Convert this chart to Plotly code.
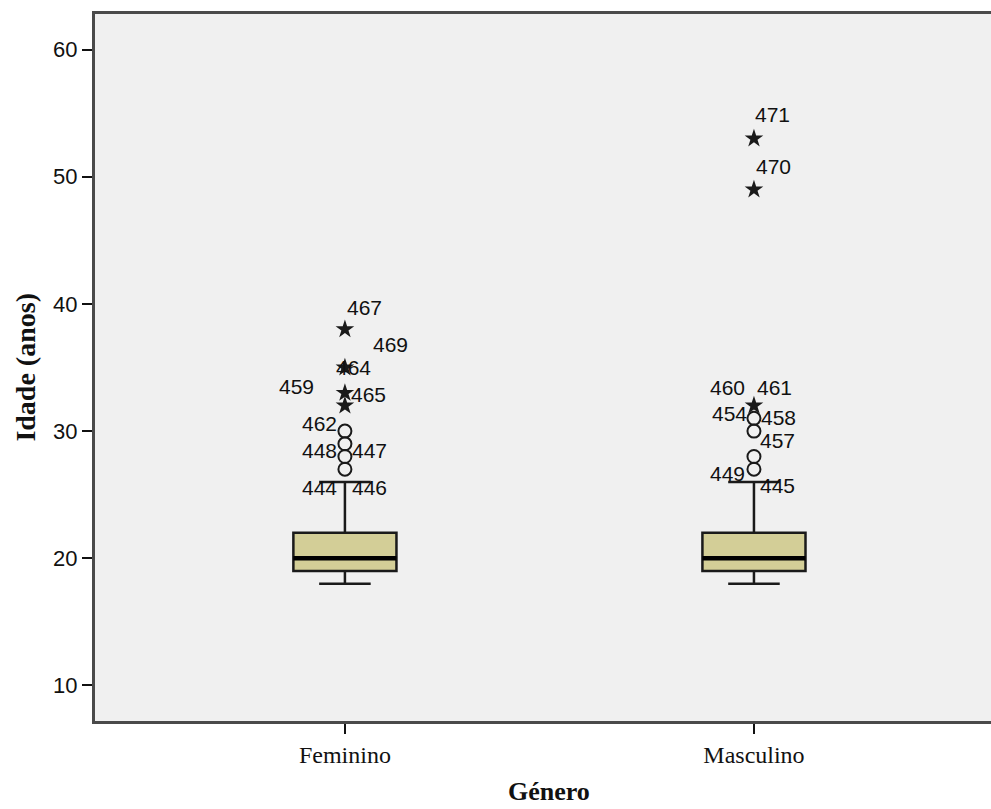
import plotly.graph_objects as go

# Boxplot summary of age (Idade) by gender (Género)
categories = ["Feminino", "Masculino"]
q1 = [19, 19]
median = [20, 20]
q3 = [22, 22]
lower_whisker = [18, 18]
upper_whisker = [26, 26]

# Outliers (circles) and extreme values (stars) per gender
fem_outliers = [27, 28, 29, 30]
fem_extremes = [32, 33, 35, 38]
masc_outliers = [27, 28, 30, 31]
masc_extremes = [32, 49, 53]

# Case labels: (category index, value of the case it belongs to, case number)
case_labels = [
    (0, 38, "467"), (0, 35, "469"), (0, 35, "464"), (0, 33, "459"),
    (0, 33, "465"), (0, 30, "462"), (0, 28, "448"), (0, 28, "447"),
    (0, 27, "444"), (0, 27, "446"),
    (1, 53, "471"), (1, 49, "470"), (1, 32, "460"), (1, 32, "461"),
    (1, 31, "454"), (1, 31, "458"), (1, 30, "457"), (1, 27, "449"),
    (1, 27, "445"),
]
# pixel offsets of each case label relative to its point
label_shifts = [
    (20, 22), (46, 23), (9, 0), (-48, 6), (24, -2), (-25, 8), (-25, 6),
    (25, 6), (-25, -18), (25, -18),
    (19, 24), (20, 23), (-26, 18), (21, 18), (-24, 5), (25, 1), (24, -9),
    (-26, -4), (24, -16),
]

box_width = 0.252
pos = list(range(len(categories)))

fig = go.Figure()

fig.add_trace(go.Box(
    x=pos, q1=q1, median=median, q3=q3,
    lowerfence=lower_whisker, upperfence=upper_whisker,
    width=box_width, whiskerwidth=0.5,
    fillcolor="#D3CE97",
    line=dict(color="#1a1a1a", width=2.5),
    boxpoints=False, hoverinfo="skip", showlegend=False,
))

# thick median bars
mx, my = [], []
for p, m in zip(pos, median):
    mx += [p - box_width / 2, p + box_width / 2, None]
    my += [m, m, None]
fig.add_trace(go.Scatter(
    x=mx, y=my, mode="lines",
    line=dict(color="#000000", width=4.5),
    showlegend=False, hoverinfo="skip",
))

circle_style = dict(symbol="circle-open", size=13, color="#1a1a1a",
                    line=dict(width=2, color="#1a1a1a"))
star_style = dict(symbol="star", size=14, color="#1a1a1a",
                  line=dict(width=0))

fig.add_trace(go.Scatter(x=[0] * len(fem_outliers), y=fem_outliers,
                         mode="markers", marker=circle_style, showlegend=False))
fig.add_trace(go.Scatter(x=[1] * len(masc_outliers), y=masc_outliers,
                         mode="markers", marker=circle_style, showlegend=False))
fig.add_trace(go.Scatter(x=[0] * len(fem_extremes), y=fem_extremes,
                         mode="markers", marker=star_style, showlegend=False))
fig.add_trace(go.Scatter(x=[1] * len(masc_extremes), y=masc_extremes,
                         mode="markers", marker=star_style, showlegend=False))

label_font = dict(family="Liberation Sans", size=21, color="#111111")
for (c, v, txt), (dx, dy) in zip(case_labels, label_shifts):
    fig.add_annotation(x=c, y=v, text=txt, showarrow=False,
                       xshift=dx, yshift=dy, font=label_font,
                       xanchor="center", yanchor="middle")

# axis titles
fig.add_annotation(xref="paper", yref="paper", x=0.507, y=-0.1,
                   text="<b>Género</b>", showarrow=False,
                   font=dict(family="Liberation Serif", size=26, color="#111"),
                   xanchor="center", yanchor="middle")
fig.add_annotation(xref="paper", yref="paper", x=-0.078, y=0.5,
                   text="<b>Idade (anos)</b>", showarrow=False, textangle=-90,
                   font=dict(family="Liberation Serif", size=28, color="#111"),
                   xanchor="center", yanchor="middle")

fig.update_layout(
    width=991, height=809,
    margin=dict(l=95, r=0, t=14, b=88),
    paper_bgcolor="white",
    plot_bgcolor="#F0F0F0",
    showlegend=False,
    xaxis=dict(
        range=[-0.611, 1.5795], tickmode="array", tickvals=pos,
        ticktext=categories, showgrid=False, zeroline=False,
        showline=True, mirror=True, linecolor="#4a4a4a", linewidth=3,
        ticks="outside", ticklen=10, tickwidth=1.5, tickcolor="#111",
        tickfont=dict(family="Liberation Serif", size=24, color="#111"),
    ),
    yaxis=dict(
        range=[7.20, 62.80], tickmode="array",
        tickvals=[10, 20, 30, 40, 50, 60],
        showgrid=False, zeroline=False,
        showline=True, linecolor="#4a4a4a", linewidth=3,
        ticks="outside", ticklen=10, tickwidth=1.5, tickcolor="#111",
        tickfont=dict(family="Liberation Sans", size=22, color="#111"),
    ),
)

fig.write_html("out.html")
